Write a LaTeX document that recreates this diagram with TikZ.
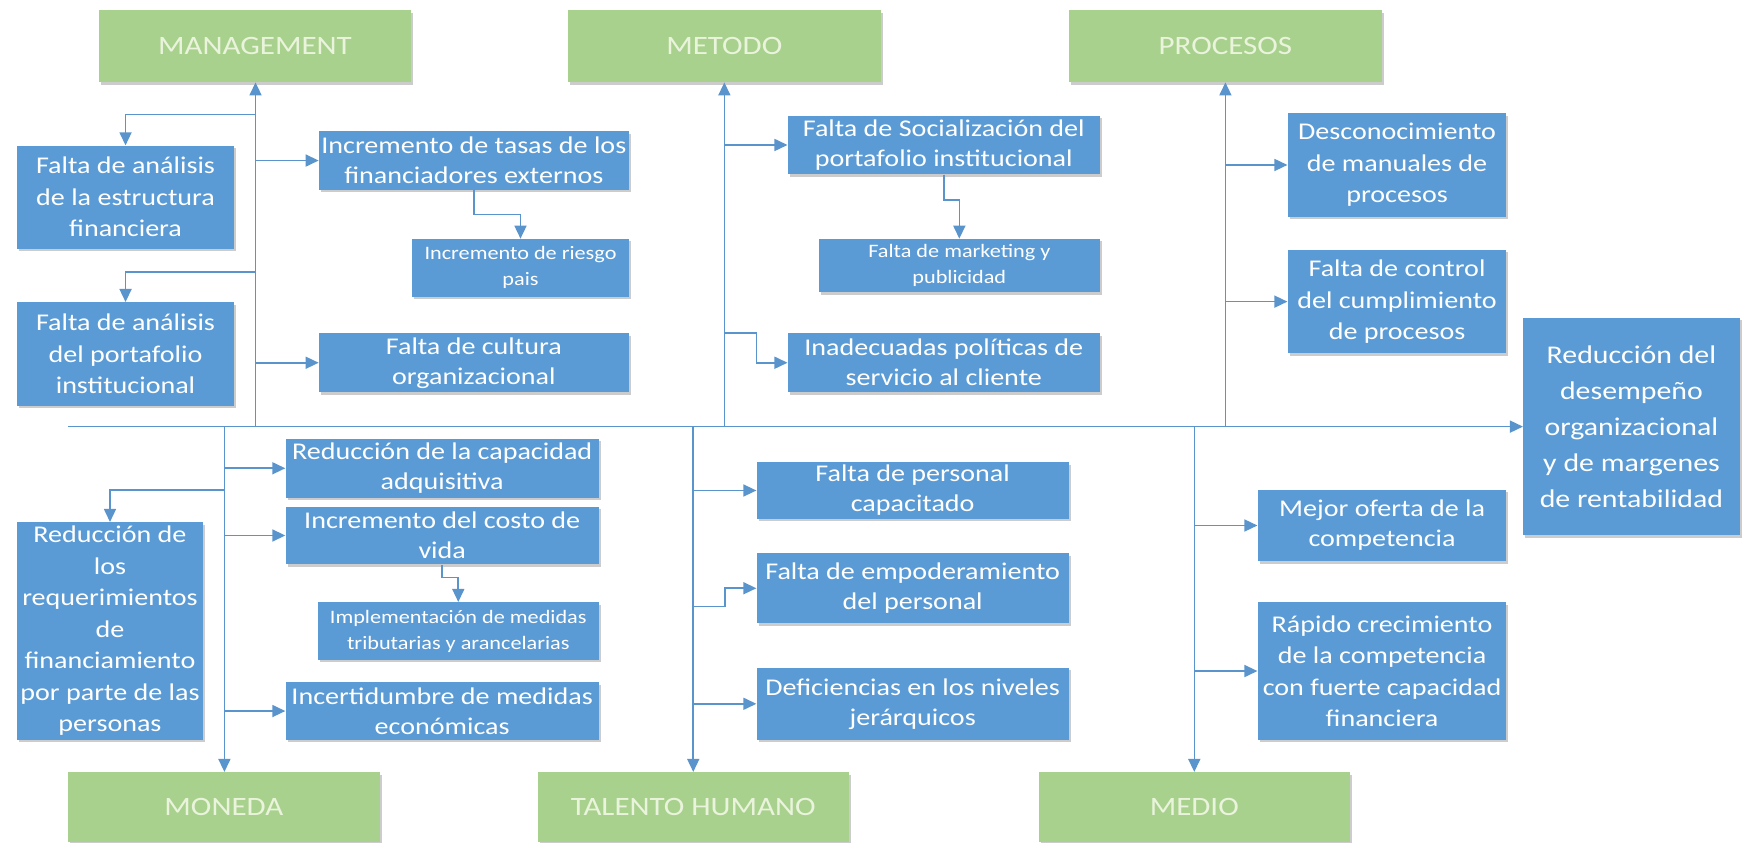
\documentclass[tikz,border=0pt]{standalone}
\usepackage{fontspec}
\setmainfont{Carlito}[FakeStretch=1.17]
\usetikzlibrary{arrows.meta,calc,shadows}
\definecolor{boxblue}{HTML}{5B9BD5}
\definecolor{boxgreen}{HTML}{A9D18E}
\definecolor{labeltext}{HTML}{EAF4DC}
\definecolor{linkblue}{HTML}{5A94CD}
\tikzset{
  geom/.style n args={4}{minimum width={(#3-#1)*1.111pt}, minimum height={(#4-#2)*1.111pt},
                         at={(#1/2+#3/2,#2/2+#4/2)}},
  shad/.style={drop shadow={shadow xshift=2pt, shadow yshift=-2.5pt, opacity=0.2, fill=black}},
  blk/.style={fill=boxblue, text=white, inner sep=0pt, align=center, shad,
              font=\fontsize{24}{30}\selectfont},
  blktall/.style={blk, font=\fontsize{24}{31.5}\selectfont},
  blksmall/.style={blk, font=\fontsize{19}{26}\selectfont},
  res/.style={blk, font=\fontsize{25.5}{36}\selectfont},
  cat/.style={fill=boxgreen, text=labeltext, inner sep=0pt, align=center, shad,
              font=\fontsize{26.5}{32}\selectfont},
  arr/.style={draw=linkblue, line width=1.6pt, -{Triangle[length=13pt,width=12pt]}},
}
\begin{document}
\begin{tikzpicture}[x=1.111pt, y=-1.111pt]
\useasboundingbox (0,0) rectangle (1568,758);
\fill[white] (0,0) rectangle (1568,758);

% category boxes
\node[cat, geom={89}{9}{370}{74}] (mgmt) {MANAGEMENT};
\node[cat, geom={511}{9}{793}{74}] (metodo) {METODO};
\node[cat, geom={962}{9}{1244}{74}] (procesos) {PROCESOS};
\node[cat, geom={61}{695}{342}{758}] (moneda) {MONEDA};
\node[cat, geom={484}{695}{764}{758}] (talento) {TALENTO HUMANO};
\node[cat, geom={935}{695}{1215}{758}] (medio) {MEDIO};

% result
\node[res, geom={1371}{286}{1566}{482}] (res) {Reducción del\\desempeño\\organizacional\\y de margenes\\de rentabilidad};

% management
\node[blktall, geom={15}{131}{211}{224}] (fae) {Falta de análisis\\de la estructura\\financiera};
\node[blktall, geom={15}{272}{211}{365}] (fap) {Falta de análisis\\del portafolio\\institucional};
\node[blk, geom={287}{118}{566}{171}] (itasas) {Incremento de tasas de los\\financiadores externos};
\node[blksmall, geom={371}{215}{566}{267}] (riesgo) {Incremento de riesgo\\pais};
\node[blk, geom={287}{300}{566}{353}] (cultura) {Falta de cultura\\organizacional};

% metodo
\node[blk, geom={709}{104}{990}{157}] (social) {Falta de Socialización del\\portafolio institucional};
\node[blksmall, geom={737}{215}{990}{263}] (mkt) {Falta de marketing y\\publicidad};
\node[blk, geom={709}{300}{990}{353}] (inadec) {Inadecuadas políticas de\\servicio al cliente};

% procesos
\node[blktall, geom={1159}{102}{1356}{195}] (descon) {Desconocimiento\\de manuales de\\procesos};
\node[blktall, geom={1159}{225}{1356}{318}] (control) {Falta de control\\del cumplimiento\\de procesos};

% moneda
\node[blk, geom={257}{395}{539}{448}] (capad) {Reducción de la capacidad\\adquisitiva};
\node[blk, geom={257}{456}{539}{508}] (costo) {Incremento del costo de\\vida};
\node[blksmall, geom={286}{542}{539}{594}] (impl) {Implementación de medidas\\tributarias y arancelarias};
\node[blk, geom={257}{614}{539}{666}] (incert) {Incertidumbre de medidas\\económicas};
\node[blktall, geom={15}{470}{183}{666}] (reqs) {Reducción de\\los\\requerimientos\\de\\financiamiento\\por parte de las\\personas};

% talento humano
\node[blk, geom={681}{416}{962}{467}] (personal) {Falta de personal\\capacitado};
\node[blk, geom={681}{498}{962}{561}] (empod) {Falta de empoderamiento\\del personal};
\node[blk, geom={681}{601}{962}{666}] (defic) {Deficiencias en los niveles\\jerárquicos};

% medio
\node[blk, geom={1132}{441}{1356}{505}] (mejor) {Mejor oferta de la\\competencia};
\node[blktall, geom={1132}{542}{1356}{666}] (rapido) {Rápido crecimiento\\de la competencia\\con fuerte capacidad\\financiera};

% spine coordinates
\coordinate (start) at (61,384);
\coordinate (jm) at (230,384);
\coordinate (jt) at (652,384);
\coordinate (jp) at (1103,384);
\coordinate (jn) at (202,384);
\coordinate (jh) at (624,384);
\coordinate (jd) at (1075,384);

% main line
\draw[arr] (start) -- (start -| res.west);

% spines
\draw[arr] (jm) -- (jm |- mgmt.south);
\draw[arr] (jt) -- (jt |- metodo.south);
\draw[arr] (jp) -- (jp |- procesos.south);
\draw[arr] (jn) -- (jn |- moneda.north);
\draw[arr] (jh) -- (jh |- talento.north);
\draw[arr] (jd) -- (jd |- medio.north);

% management branches
\coordinate (m1) at (230,103);
\coordinate (m2) at (230,245);
\draw[arr] (m1) -| (fae.north);
\draw[arr] (m2) -| (fap.north);
\draw[arr] (itasas.west -| jm) -- (itasas.west);
\draw[arr] (cultura.west -| jm) -- (cultura.west);
\draw[arr] (itasas.south) |- ($(itasas.south)!0.5!(riesgo.north)$) -| (riesgo.north);

% metodo branches
\draw[arr] (social.west -| jt) -- (social.west);
\draw[arr] (social.south) |- ($(social.south)!0.4!(mkt.north)$) -| (mkt.north);
\coordinate (t1) at (652,300);
\draw[arr] (t1) -| ($(inadec.west)+(-28,0)$) -- (inadec.west);

% procesos branches
\draw[arr] (descon.west -| jp) -- (descon.west);
\draw[arr] (control.west -| jp) -- (control.west);

% moneda branches
\draw[arr] (capad.west -| jn) -- (capad.west);
\draw[arr] (costo.west -| jn) -- (costo.west);
\draw[arr] (incert.west -| jn) -- (incert.west);
\draw[arr] (costo.south) |- ($(costo.south)!0.35!(impl.north)$) -| (impl.north);
\coordinate (n1) at (202,441);
\draw[arr] (n1) -| (reqs.north);

% talento branches
\draw[arr] (personal.west -| jh) -- (personal.west);
\draw[arr] (defic.west -| jh) -- (defic.west);
\coordinate (h1) at (624,546);
\draw[arr] (h1) -| ($(empod.west)+(-28,0)$) -- (empod.west);

% medio branches
\draw[arr] (mejor.west -| jd) -- (mejor.west);
\draw[arr] (rapido.west -| jd) -- (rapido.west);
\end{tikzpicture}
\end{document}
